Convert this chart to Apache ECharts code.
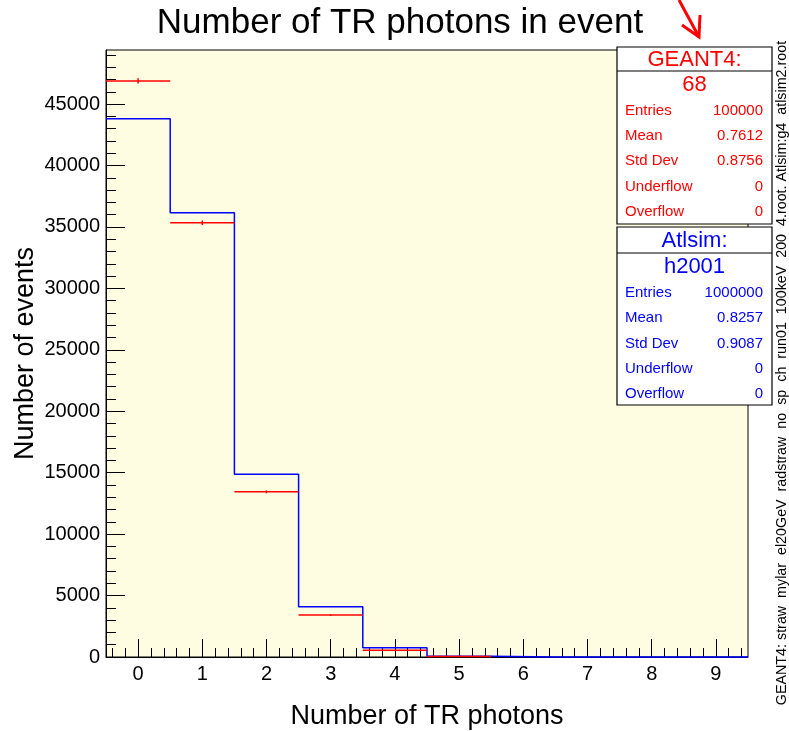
<!DOCTYPE html>
<html>
<head>
<meta charset="utf-8">
<script src="https://cdn.jsdelivr.net/npm/echarts@6/dist/echarts.min.js"></script>
<style>html,body{margin:0;padding:0;background:#fff;}#c{width:789px;height:731px;}</style>
</head>
<body>
<div id="c"></div>
<script>
// ---- data ----
const bins = [0, 1, 2, 3, 4, 5, 6, 7, 8, 9];
const geant4 = [46880, 35340, 13440, 3420, 550, 40, 0, 0, 0, 0];
const atlsim = [43800, 36150, 14880, 4080, 760, 70, 0, 0, 0, 0];
const xTicks = [0, 1, 2, 3, 4, 5, 6, 7, 8, 9];
const yTicks = [0, 5000, 10000, 15000, 20000, 25000, 30000, 35000, 40000, 45000];
const titleText = 'Number of TR photons in event';
const xTitle = 'Number of TR photons';
const yTitle = 'Number of events';
const statLabels = ['Entries', 'Mean', 'Std Dev', 'Underflow', 'Overflow'];
const g4Stats = ['100000', '0.7612', '0.8756', '0', '0'];
const atlStats = ['1000000', '0.8257', '0.9087', '0', '0'];
const g4Header = ['GEANT4:', '68'];
const atlHeader = ['Atlsim:', 'h2001'];
const sideNote = 'GEANT4: straw  mylar  el20GeV  radstraw  no  sp  ch  run01  100keV  200  4.root. Atlsim:g4  atlsim2.root';

// ---- derived ----
const xMin = -0.5, xMax = 9.5, yMin = 0, yMax = 49400;
const xMinor = [];
for (let v = -0.4; v < xMax - 1e-9; v += 0.2) {
  const r = Math.round(v * 10) / 10;
  if (Math.abs(r - Math.round(r)) > 1e-6) xMinor.push(r);
}
const yMinor = [];
for (let v = 1000; v < yMax; v += 1000) if (v % 5000 !== 0) yMinor.push(v);

const stepData = bins.map((b, i) => [b - 0.5, atlsim[i]]);
stepData.push([bins[bins.length - 1] + 0.5, atlsim[atlsim.length - 1]]);
const g4Data = bins.map((b, i) => [b, geant4[i], Math.sqrt(geant4[i])]);

const FONT = "'Liberation Sans', Arial, Helvetica, sans-serif";

function statsBox(x, y, w, h, headH, header, vals, color, rowY0, rowStep, subY) {
  const els = [
    { type: 'rect', shape: { x: x, y: y, width: w, height: h }, style: { fill: '#fff', stroke: '#000', lineWidth: 1.2 }, z: 100 },
    { type: 'line', shape: { x1: x, y1: y + headH, x2: x + w, y2: y + headH }, style: { stroke: '#000', lineWidth: 1.2 }, z: 101 },
    { type: 'text', x: x + w / 2, y: y + headH / 2 + 1, style: { text: header[0], fill: color, font: '22px ' + FONT, align: 'center', verticalAlign: 'middle' }, z: 102 },
    { type: 'text', x: x + w / 2, y: subY, style: { text: header[1], fill: color, font: '22px ' + FONT, align: 'center', verticalAlign: 'middle' }, z: 102 }
  ];
  statLabels.forEach((lab, i) => {
    const yy = rowY0 + i * rowStep;
    els.push({ type: 'text', x: x + 8, y: yy, style: { text: lab, fill: color, font: '15px ' + FONT, align: 'left', verticalAlign: 'middle' }, z: 102 });
    els.push({ type: 'text', x: x + w - 9, y: yy, style: { text: vals[i], fill: color, font: '15px ' + FONT, align: 'right', verticalAlign: 'middle' }, z: 102 });
  });
  return els;
}

const chart = echarts.init(document.getElementById('c'), null, { renderer: 'canvas' });
const axisLabelStyle = { color: '#000', fontSize: 20, fontFamily: FONT };

chart.setOption({
  animation: false,
  backgroundColor: '#fff',
  grid: { left: 106, right: 41, top: 50, bottom: 74, show: true, containLabel: false, outerBoundsMode: 'none', backgroundColor: '#fffde1', borderColor: '#000', borderWidth: 1 },
  xAxis: [
    {
      type: 'value', min: xMin, max: xMax, position: 'bottom',
      axisLine: { show: true, onZero: false, lineStyle: { color: '#000', width: 1 } },
      axisTick: { show: true, inside: true, length: 18, customValues: xTicks, lineStyle: { color: '#000', width: 1 } },
      axisLabel: { show: true, customValues: xTicks, margin: 7, formatter: v => String(v), ...axisLabelStyle },
      splitLine: { show: false },
      name: xTitle, nameLocation: 'middle', nameGap: 46,
      nameTextStyle: { color: '#000', fontSize: 27, fontFamily: FONT }
    },
    {
      type: 'value', min: xMin, max: xMax, position: 'bottom',
      axisLine: { show: false, onZero: false },
      axisTick: { show: true, inside: true, length: 9, customValues: xMinor, lineStyle: { color: '#000', width: 1 } },
      axisLabel: { show: false },
      splitLine: { show: false }
    }
  ],
  yAxis: [
    {
      type: 'value', min: yMin, max: yMax, position: 'left',
      axisLine: { show: true, onZero: false, lineStyle: { color: '#000', width: 1 } },
      axisTick: { show: true, inside: true, length: 19, customValues: yTicks, lineStyle: { color: '#000', width: 1 } },
      axisLabel: { show: true, customValues: yTicks, margin: 6, formatter: v => String(v), ...axisLabelStyle },
      splitLine: { show: false },
      name: yTitle, nameLocation: 'middle', nameGap: 67, nameRotate: 90, nameMoveOverlap: false,
      nameTextStyle: { color: '#000', fontSize: 27, fontFamily: FONT }
    },
    {
      type: 'value', min: yMin, max: yMax, position: 'left',
      axisLine: { show: false, onZero: false },
      axisTick: { show: true, inside: true, length: 10, customValues: yMinor, lineStyle: { color: '#000', width: 1 } },
      axisLabel: { show: false },
      splitLine: { show: false }
    }
  ],
  series: [
    {
      name: 'Atlsim', type: 'line', step: 'end', data: stepData, xAxisIndex: 0, yAxisIndex: 0,
      showSymbol: false, symbol: 'none', clip: false,
      lineStyle: { color: '#0000ff', width: 1.5 }, z: 3
    },
    {
      name: 'GEANT4', type: 'custom', data: g4Data, xAxisIndex: 0, yAxisIndex: 0,
      encode: { x: 0, y: 1 },
      renderItem: function (params, api) {
        const x = api.value(0), y = api.value(1), e = api.value(2);
        if (!y) return null;
        const a = api.coord([x - 0.5, y]);
        const b = api.coord([x + 0.5, y]);
        const t = api.coord([x, y + e]);
        const bt = api.coord([x, y - e]);
        const st = { stroke: '#ff0000', lineWidth: 1.5 };
        return {
          type: 'group', children: [
            { type: 'line', shape: { x1: a[0], y1: a[1], x2: b[0], y2: b[1] }, style: st },
            { type: 'line', shape: { x1: t[0], y1: t[1], x2: bt[0], y2: bt[1] }, style: st }
          ]
        };
      },
      z: 4
    }
  ],
  graphic: [
    { type: 'text', x: 400, y: 23, style: { text: titleText, fill: '#000', font: '35px ' + FONT, align: 'center', verticalAlign: 'middle' } },
    { type: 'text', x: 782, y: 373, rotation: Math.PI / 2, style: { text: sideNote, fill: '#000', font: '14.3px ' + FONT, align: 'center', verticalAlign: 'middle' } },
    { type: 'polyline', shape: { points: [[679, 0], [699, 37]] }, style: { stroke: '#ff0000', lineWidth: 3 }, z: 110 },
    { type: 'polyline', shape: { points: [[682, 25], [699, 37], [700, 15]] }, style: { stroke: '#ff0000', lineWidth: 3, fill: null }, z: 110 }
  ]
    .concat(statsBox(617, 47, 155, 177, 24, g4Header, g4Stats, '#ff0000', 110.5, 25.3, 85))
    .concat(statsBox(617, 227, 155, 178, 26, atlHeader, atlStats, '#0000ff', 293, 25.2, 267))
});
</script>
</body>
</html>
